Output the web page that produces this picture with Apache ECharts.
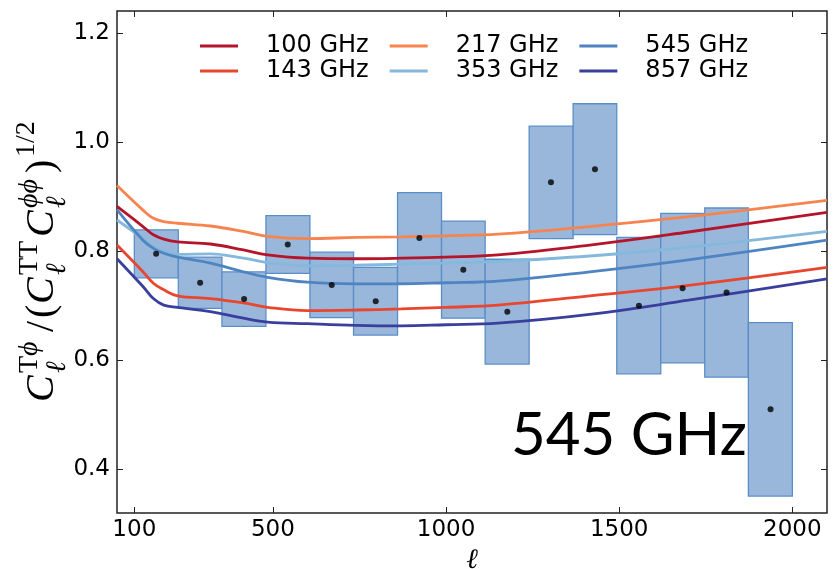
<!DOCTYPE html>
<html>
<head>
<meta charset="utf-8">
<script src="https://cdn.jsdelivr.net/npm/echarts@6/dist/echarts.min.js"></script>
<style>
  html, body { margin: 0; padding: 0; background: #fff; }
  #chart { width: 833px; height: 569px; }
</style>
</head>
<body>
<div id="chart"></div>
<script>
// multipole grid for the model curves
const ell = [50, 125, 155, 185, 225, 320, 415, 485, 600, 740, 870, 1000, 1150, 1415, 1700, 2100];
const c100 = [0.882, 0.845, 0.830, 0.822, 0.817, 0.813, 0.802, 0.793, 0.787, 0.786, 0.787, 0.789, 0.793, 0.811, 0.835, 0.871];
const c143 = [0.811, 0.762, 0.741, 0.729, 0.718, 0.713, 0.705, 0.697, 0.691, 0.692, 0.694, 0.697, 0.701, 0.718, 0.737, 0.770];
const c217 = [0.920, 0.875, 0.860, 0.854, 0.851, 0.846, 0.836, 0.827, 0.823, 0.825, 0.826, 0.828, 0.831, 0.845, 0.863, 0.893];
const c353 = [0.857, 0.823, 0.808, 0.800, 0.794, 0.795, 0.787, 0.779, 0.773, 0.774, 0.776, 0.778, 0.781, 0.791, 0.807, 0.836];
const c545 = [0.876, 0.820, 0.805, 0.796, 0.789, 0.778, 0.762, 0.752, 0.743, 0.740, 0.740, 0.742, 0.745, 0.762, 0.784, 0.820];
const c857 = [0.786, 0.735, 0.713, 0.701, 0.697, 0.689, 0.677, 0.670, 0.667, 0.664, 0.663, 0.665, 0.668, 0.684, 0.710, 0.749];

// binned 545 GHz measurement
const binEdges = [100, 227, 353, 480, 607, 733, 860, 987, 1113, 1240, 1367, 1493, 1620, 1747, 1873, 2000];
const binCenters = [163, 290, 417, 543, 670, 797, 923, 1050, 1177, 1303, 1430, 1557, 1683, 1810, 1937];
const binValues = [0.795, 0.742, 0.712, 0.812, 0.738, 0.708, 0.824, 0.766, 0.689, 0.926, 0.950, 0.700, 0.732, 0.724, 0.510];
const binErrors = [0.044, 0.047, 0.050, 0.053, 0.060, 0.062, 0.083, 0.089, 0.096, 0.103, 0.120, 0.125, 0.137, 0.155, 0.159];

const xTicks = [100, 500, 1000, 1500, 2000];
const yTicks = [0.4, 0.6, 0.8, 1.0, 1.2];

const curves = [
  { name: "100 GHz", data: c100, color: "#b5152b" },
  { name: "143 GHz", data: c143, color: "#e8462f" },
  { name: "217 GHz", data: c217, color: "#f7844f" },
  { name: "353 GHz", data: c353, color: "#84b8dc" },
  { name: "545 GHz", data: c545, color: "#4f84c2" },
  { name: "857 GHz", data: c857, color: "#3a3f9e" },
];

const boxes = binValues.map((v, i) => [binEdges[i], binEdges[i + 1], v - binErrors[i], v + binErrors[i]]);
const points = binValues.map((v, i) => [binCenters[i], v]);

const FONT = "DejaVu Sans";
const tickStyle = { show: true, inside: true, length: 6, lineStyle: { color: "#222", width: 1 } };

const chart = echarts.init(document.getElementById("chart"), null, { renderer: "canvas" });

const legendBase = {
  left: 200,
  orient: "horizontal",
  icon: "rect",
  itemWidth: 38,
  itemHeight: 3,
  itemGap: 21,
  padding: 0,
  textStyle: { fontFamily: FONT, fontSize: 24, color: "#000", padding: [0, 0, 0, 23] },
};

// y axis label pieces, laid out along the (rotated) baseline
const M = "italic 40px 'Liberation Serif'";
const R = "40px 'Liberation Serif'";
const S = "italic 28px 'Liberation Serif'";
const SR = "28px 'Liberation Serif'";
const labelParts = [
  { t: "C", x: 0, y: 0, f: M },
  { t: "T", x: 29, y: -18, f: SR },
  { t: "ϕ", x: 46, y: -18, f: S },
  { t: "ℓ", x: 29, y: 10, f: S },
  { t: "/", x: 70, y: 0, f: R },
  { t: "(", x: 84, y: 0, f: R },
  { t: "C", x: 98, y: 0, f: M },
  { t: "TT", x: 127, y: -18, f: SR },
  { t: "ℓ", x: 127, y: 10, f: S },
  { t: "C", x: 165, y: 0, f: M },
  { t: "ϕϕ", x: 194, y: -18, f: S },
  { t: "ℓ", x: 194, y: 10, f: S },
  { t: ")", x: 229, y: 0, f: R },
  { t: "1/2", x: 245, y: -21, f: SR },
];

chart.setOption({
  animation: false,
  backgroundColor: "#fff",
  grid: { left: 117, right: 6, top: 11, bottom: 56, containLabel: false, outerBoundsMode: "none",
          show: true, borderColor: "#222", borderWidth: 1.5 },
  legend: [
    Object.assign({}, legendBase, { top: 34, data: ["100 GHz", "217 GHz", "545 GHz"] }),
    Object.assign({}, legendBase, { top: 59, data: ["143 GHz", "353 GHz", "857 GHz"] }),
  ],
  xAxis: [
    {
      type: "value", min: 50, max: 2100,
      name: "ℓ", nameLocation: "middle", nameGap: 30,
      nameTextStyle: { fontFamily: "DejaVu Serif", fontStyle: "italic", fontSize: 28, color: "#000" },
      axisLine: { show: false },
      splitLine: { show: false },
      axisTick: Object.assign({ customValues: xTicks }, tickStyle),
      axisLabel: { customValues: xTicks, fontFamily: FONT, fontSize: 23, color: "#000", margin: 6,
                   formatter: (v) => String(v) },
    },
    {
      type: "value", min: 50, max: 2100, position: "top",
      axisLine: { show: false }, splitLine: { show: false },
      axisTick: Object.assign({ customValues: xTicks }, tickStyle),
      axisLabel: { show: false },
    },
  ],
  yAxis: [
    {
      type: "value", min: 0.32, max: 1.24,
      axisLine: { show: false }, splitLine: { show: false },
      axisTick: Object.assign({ customValues: yTicks }, tickStyle),
      axisLabel: { customValues: yTicks, fontFamily: FONT, fontSize: 23, color: "#000", margin: 7,
                   formatter: (v) => v.toFixed(1) },
    },
    {
      type: "value", min: 0.32, max: 1.24, position: "right",
      axisLine: { show: false }, splitLine: { show: false },
      axisTick: Object.assign({ customValues: yTicks }, tickStyle),
      axisLabel: { show: false },
    },
  ],
  graphic: [
    {
      type: "text", left: 511, top: 406, z: 10,
      style: { text: "545 GHz", font: "60px Lato", fill: "#000" },
    },
    {
      type: "group", x: 62, y: 402, rotation: Math.PI / 2,
      children: labelParts.map((p) => ({
        type: "text", x: p.x, y: p.y,
        style: { text: p.t, font: p.f, fill: "#000", verticalAlign: "bottom" },
      })),
    },
  ],
  series: [
    {
      type: "custom", z: 1,
      data: boxes,
      renderItem: (params, api) => {
        const p0 = api.coord([api.value(0), api.value(3)]);
        const p1 = api.coord([api.value(1), api.value(2)]);
        return {
          type: "rect",
          shape: { x: p0[0], y: p0[1], width: p1[0] - p0[0], height: p1[1] - p0[1] },
          style: { fill: "#99b7da", stroke: "#5b8ec9", lineWidth: 1.3 },
        };
      },
    },
  ].concat(curves.map((c) => ({
    name: c.name, type: "line", z: 2,
    data: ell.map((l, i) => [l, c.data[i]]),
    smooth: 0.4,
    symbol: "none",
    lineStyle: { color: c.color, width: 2.8 },
    itemStyle: { color: c.color },
  }))).concat([
    {
      type: "scatter", z: 3,
      data: points, symbolSize: 6,
      itemStyle: { color: "#000" },
    },
  ]),
});
</script>
</body>
</html>
